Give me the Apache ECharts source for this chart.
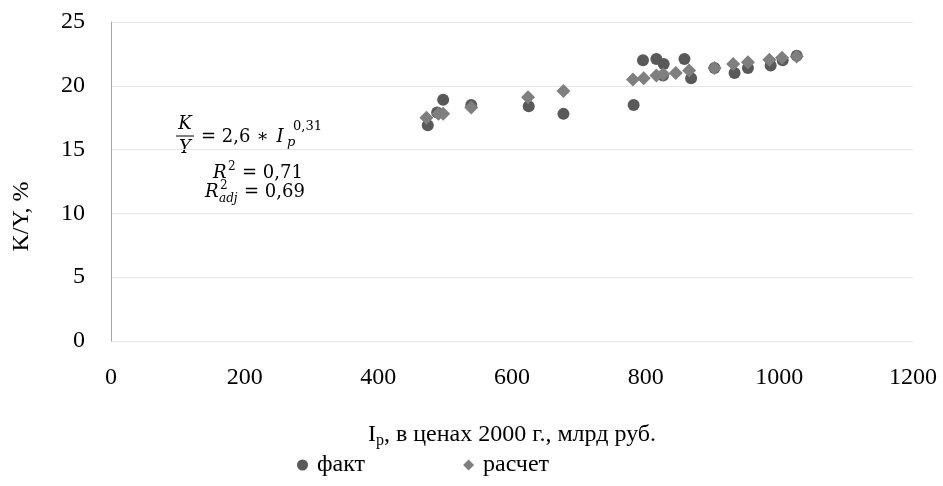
<!DOCTYPE html>
<html>
<head>
<meta charset="utf-8">
<script src="https://cdn.jsdelivr.net/npm/echarts@6/dist/echarts.min.js"></script>
<style>
html,body{margin:0;padding:0;background:#fff;}
#c{width:943px;height:486px;}
</style>
</head>
<body>
<div id="c"></div>
<script>
// Data
var factX = [474, 488, 497, 539, 625, 677, 782, 796, 816, 827, 826, 858, 868, 903, 933, 953, 987, 1005, 1026];
var factY = [16.9, 17.9, 18.9, 18.5, 18.4, 17.8, 18.5, 22.0, 22.1, 21.7, 20.8, 22.1, 20.6, 21.4, 21.0, 21.4, 21.6, 22.0, 22.35];
var calcX = [472, 490, 497, 539, 624, 677, 781, 797, 816, 826, 845, 865, 903, 931, 953, 985, 1004, 1026];
var calcY = [17.5, 17.8, 17.8, 18.3, 19.1, 19.6, 20.5, 20.6, 20.8, 20.9, 21.0, 21.2, 21.4, 21.7, 21.85, 22.05, 22.2, 22.3];
var seriesNames = ['факт', 'расчет'];
var xTitle = '{a|I}{s|р}{a|, в ценах 2000 г., млрд руб.}';
var yTitle = 'K/Y, %';

function pairs(xs, ys) { return xs.map(function (x, i) { return [x, ys[i]]; }); }

var serif = 'Liberation Serif';
var mathFont = 'DejaVu Serif';
var chart = echarts.init(document.getElementById('c'));
var fs = 18;
function t(x, y, text, opt) {
  opt = opt || {};
  return { type: 'text', x: x, y: y, style: {
    text: text,
    font: (opt.italic ? 'italic ' : '') + (opt.size || fs) + 'px "' + mathFont + '"',
    fill: '#000', textAlign: opt.align || 'left', textVerticalAlign: 'middle' } };
}
var dy = 8;
chart.setOption({
  animation: false,
  grid: { left: 111, right: 30, top: 22, bottom: 145 },
  xAxis: {
    type: 'value', min: 0, max: 1200, interval: 200,
    axisLine: { show: false }, axisTick: { show: false },
    splitLine: { show: false },
    axisLabel: { color: '#000', fontFamily: serif, fontSize: 24, margin: 25,
      formatter: function (v) { return String(v); } },
    name: xTitle, nameLocation: 'middle', nameGap: 80,
    nameTextStyle: {
      rich: {
        a: { fontFamily: serif, fontSize: 24, color: '#000', lineHeight: 28 },
        s: { fontFamily: serif, fontSize: 16, color: '#000', lineHeight: 10, verticalAlign: 'bottom' }
      }
    }
  },
  yAxis: {
    type: 'value', min: 0, max: 25, interval: 5,
    axisLine: { show: true, lineStyle: { color: '#a6a6a6', width: 1 } },
    axisTick: { show: false },
    splitLine: { show: true, lineStyle: { color: '#e6e6e6', width: 1 } },
    axisLabel: { color: '#000', fontFamily: serif, fontSize: 24, margin: 26 },
    name: yTitle, nameLocation: 'middle', nameGap: 77, nameRotate: 90,
    nameTextStyle: { color: '#000', fontFamily: serif, fontSize: 24, padding: [0, 70, 0, 0] }
  },
  legend: {
    left: 292, top: 448, itemGap: 98, itemWidth: 11, itemHeight: 11,
    textStyle: { color: '#000', fontFamily: serif, fontSize: 24, padding: [0, 0, 0, 4] },
    data: [
      { name: seriesNames[0], icon: 'circle', itemStyle: { color: '#595959' } },
      { name: seriesNames[1], icon: 'diamond', itemStyle: { color: '#7f7f7f' } }
    ]
  },
  series: [
    { name: seriesNames[0], type: 'scatter', symbol: 'circle', symbolSize: 12,
      itemStyle: { color: '#595959', opacity: 1 }, data: pairs(factX, factY) },
    { name: seriesNames[1], type: 'scatter', symbol: 'diamond', symbolSize: 14,
      itemStyle: { color: '#7f7f7f', opacity: 1 }, data: pairs(calcX, calcY) }
  ],
  graphic: [
    t(185, 116 + dy, 'K', { italic: true, align: 'center' }),
    { type: 'line', shape: { x1: 176, y1: 128 + dy, x2: 194, y2: 128 + dy }, style: { stroke: '#000', lineWidth: 1 } },
    t(185, 140 + dy, 'Y', { italic: true, align: 'center' }),
    t(201, 129 + dy, '= 2,6 ∗'),
    t(280, 129 + dy, 'I', { italic: true, align: 'center' }),
    t(287, 135 + dy, 'p', { italic: true, size: 13 }),
    t(293, 119 + dy, '0,31', { size: 13 }),

    t(213, 165 + dy, 'R', { italic: true }),
    t(228, 159 + dy, '2', { size: 12 }),
    t(242, 165 + dy, '= 0,71'),

    t(205, 184 + dy, 'R', { italic: true }),
    t(220, 178 + dy, '2', { size: 12 }),
    t(219, 191 + dy, 'adj', { italic: true, size: 12 }),
    t(244, 184 + dy, '= 0,69')
  ]
});
</script>
</body>
</html>
